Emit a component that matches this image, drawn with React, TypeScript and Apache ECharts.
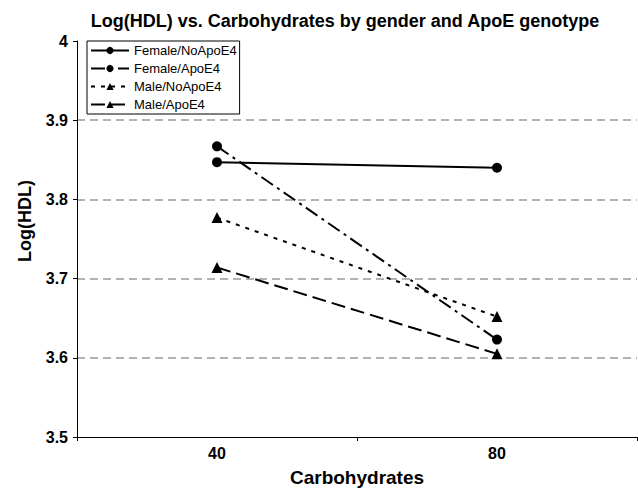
import React, { useEffect, useRef } from "react";
import * as echarts from "echarts";

const categories = ["40", "80"];
const femaleNoApoE4 = [3.847, 3.84];
const femaleApoE4 = [3.867, 3.623];
const maleNoApoE4 = [3.777, 3.652];
const maleApoE4 = [3.714, 3.605];
const seriesNames = ["Female/NoApoE4", "Female/ApoE4", "Male/NoApoE4", "Male/ApoE4"];

const FONT = "Liberation Sans, Arial, Helvetica, sans-serif";

export default function App() {
  const ref = useRef<HTMLDivElement>(null);
  useEffect(() => {
    if (!ref.current) return;
    const chart = echarts.init(ref.current, undefined, { renderer: "svg" });
    const mk = (name: string, data: number[], symbol: string, dash: any, size: number) => ({
      name,
      type: "line",
      data,
      symbol,
      symbolSize: size,
      showAllSymbol: true,
      itemStyle: { color: "#000" },
      lineStyle: { color: "#000", width: 2, type: dash },
      emphasis: { disabled: true },
    });
    chart.setOption({
      animation: false,
      backgroundColor: "#fff",
      title: {
        text: "Log(HDL) vs. Carbohydrates by gender and ApoE genotype",
        left: 340,
        textAlign: "center",
        top: 7,
        textStyle: { fontFamily: FONT, fontSize: 18, fontWeight: "bold", color: "#000" },
      },
      graphic: [
        {
          type: "text",
          x: 25,
          y: 221,
          rotation: Math.PI / 2,
          style: {
            text: "Log(HDL)",
            fill: "#000",
            font: "bold 18px " + FONT,
            textAlign: "center",
            textVerticalAlign: "middle",
          },
        },
      ],
      legend: {
        orient: "vertical",
        left: 87,
        top: 41,
        data: seriesNames,
        itemWidth: 38,
        itemHeight: 9,
        itemGap: 5,
        borderColor: "#000",
        borderWidth: 1,
        padding: [3, 3, 3, 3],
        textStyle: { fontFamily: FONT, fontSize: 13, color: "#000" },
        selectedMode: false,
      },
      grid: { left: 77, right: 1, top: 41, bottom: 51, containLabel: false },
      xAxis: {
        type: "category",
        data: categories,
        boundaryGap: true,
        name: "Carbohydrates",
        nameLocation: "middle",
        nameGap: 31,
        nameTextStyle: { fontFamily: FONT, fontSize: 19, fontWeight: "bold", color: "#000" },
        axisLine: { lineStyle: { color: "#000", width: 1 } },
        axisTick: { show: true, alignWithLabel: false, length: 4, lineStyle: { color: "#000" } },
        axisLabel: { fontFamily: FONT, fontSize: 16, fontWeight: "bold", color: "#000", margin: 8 },
        splitLine: { show: false },
      },
      yAxis: {
        type: "value",
        min: 3.5,
        max: 4,
        interval: 0.1,
        axisLine: { show: true, lineStyle: { color: "#000", width: 1 } },
        axisTick: { show: true, length: 4, lineStyle: { color: "#000" } },
        axisLabel: {
          fontFamily: FONT,
          fontSize: 16,
          fontWeight: "bold",
          color: "#000",
          margin: 9,
          formatter: (v: number) => (Math.abs(v - 4) < 1e-9 ? "4" : v.toFixed(1)),
        },
        splitLine: {
          show: true,
          lineStyle: {
            color: ["transparent", "#999", "#999", "#999", "#999", "transparent"],
            type: [8, 5],
            width: 1.5,
          },
        },
      },
      series: [
        mk(seriesNames[0], femaleNoApoE4, "circle", "solid", 10),
        mk(seriesNames[1], femaleApoE4, "circle", [14, 5, 3, 5], 10),
        mk(seriesNames[2], maleNoApoE4, "triangle", [4, 6], 11),
        mk(seriesNames[3], maleApoE4, "triangle", [14, 6], 11),
      ],
    });
    return () => chart.dispose();
  }, []);
  return <div ref={ref} style={{ width: 638, height: 492, position: "absolute", left: 0, top: 0 }} />;
}
